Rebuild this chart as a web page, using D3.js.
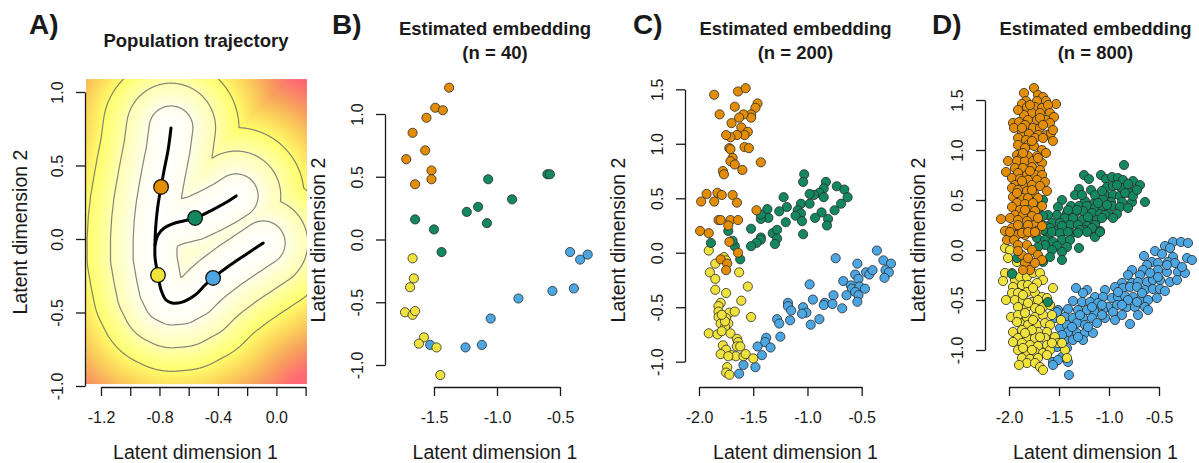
<!DOCTYPE html>
<html>
<head>
<meta charset="utf-8">
<script src="https://cdn.jsdelivr.net/npm/d3@7"></script>
<style>
  body { margin: 0; background: #fff; }
  svg { display: block; }
</style>
</head>
<body>
<svg id="fig" width="1199" height="463"></svg>
<script>
// ---- data -------------------------------------------------------------
// panel A: population trajectory (latent coords)
var trunkPath = [[-0.721,0.755],[-0.741,0.605],[-0.768,0.469],[-0.789,0.354],[-0.810,0.231],[-0.823,0.116],[-0.830,-0.007],[-0.830,-0.129],[-0.810,-0.245],[-0.789,-0.347],[-0.755,-0.415],[-0.714,-0.435],[-0.645,-0.429],[-0.556,-0.381],[-0.488,-0.313],[-0.433,-0.265],[-0.316,-0.177],[-0.193,-0.095],[-0.090,-0.027]];
var branchPath = [[-0.830,-0.041],[-0.810,0.027],[-0.768,0.075],[-0.693,0.109],[-0.556,0.143],[-0.440,0.197],[-0.351,0.245],[-0.275,0.293]];
var trajDots = [[-0.789,0.354],[-0.556,0.143],[-0.810,-0.245],[-0.433,-0.265]];
var contourLevels = [0.15, 0.305, 0.465];
var heatX = [-1.303, 0.211];
var heatY = [-0.986, 1.088];

var groups = ["orange", "green", "yellow", "blue"];

// panel B: n = 40
var n40Orange = [[-1.38,1.21],[-1.49,1.05],[-1.43,1.03],[-1.56,0.97],[-1.67,0.85],[-1.57,0.71],[-1.72,0.64],[-1.52,0.55],[-1.52,0.48],[-1.65,0.44]];
var n40Green = [[-1.07,0.48],[-0.60,0.52],[-0.58,0.52],[-0.88,0.32],[-1.15,0.26],[-1.24,0.22],[-1.08,0.13],[-1.65,0.16],[-1.50,0.08],[-1.44,-0.10]];
var n40Yellow = [[-1.67,-0.15],[-1.66,-0.31],[-1.69,-0.38],[-1.73,-0.58],[-1.67,-0.60],[-1.65,-0.57],[-1.58,-0.78],[-1.62,-0.83],[-1.48,-0.86],[-1.45,-1.08]];
var n40Blue = [[-1.53,-0.84],[-1.25,-0.86],[-1.12,-0.84],[-1.05,-0.63],[-0.83,-0.47],[-0.56,-0.41],[-0.39,-0.39],[-0.42,-0.10],[-0.34,-0.16],[-0.28,-0.12]];

// panel C: n = 200
var n200Orange = [[-1.86,1.45],[-1.64,1.48],[-1.57,1.51],[-1.81,1.27],[-1.67,1.34],[-1.46,1.37],[-1.48,1.33],[-1.52,1.27],[-1.52,1.24],[-1.59,1.27],[-1.63,1.24],[-1.70,1.19],[-1.61,1.15],[-1.55,1.11],[-1.58,1.08],[-1.65,1.08],[-1.71,1.06],[-1.75,1.08],[-1.72,0.96],[-1.71,0.95],[-1.58,0.97],[-1.54,0.96],[-1.69,0.87],[-1.71,0.84],[-1.67,0.81],[-1.78,0.75],[-1.77,0.72],[-1.60,0.76],[-1.43,0.83],[-1.93,0.54],[-1.83,0.55],[-1.79,0.53],[-1.69,0.53],[-1.98,0.47],[-1.86,0.47],[-1.65,0.46],[-1.82,0.30],[-1.80,0.30],[-1.71,0.30],[-1.64,0.30],[-1.73,0.25],[-1.47,0.39],[-1.99,0.20],[-1.91,0.18],[-1.72,0.10],[-1.64,0.00],[-1.80,-0.06],[-1.74,-0.10],[-1.75,-0.16]];
var n200Green = [[-1.03,0.72],[-1.04,0.65],[-0.83,0.65],[-0.73,0.61],[-0.66,0.58],[-0.63,0.51],[-0.69,0.45],[-0.75,0.39],[-0.85,0.59],[-0.89,0.55],[-0.94,0.53],[-0.98,0.54],[-0.85,0.51],[-1.22,0.51],[-1.06,0.45],[-0.98,0.45],[-1.19,0.42],[-1.26,0.38],[-1.37,0.40],[-1.09,0.39],[-1.06,0.36],[-1.11,0.34],[-0.87,0.37],[-0.93,0.32],[-0.81,0.31],[-0.82,0.25],[-1.05,0.29],[-1.20,0.28],[-1.36,0.32],[-1.43,0.31],[-1.43,0.35],[-1.52,0.22],[-1.73,0.20],[-1.32,0.18],[-1.28,0.21],[-1.04,0.17],[-1.43,0.14],[-1.28,0.13],[-1.30,0.08],[-1.43,0.12],[-1.47,0.09],[-1.52,0.06],[-1.89,0.09],[-1.67,0.06],[-1.62,-0.06],[-1.69,0.11]];
var n200Yellow = [[-1.91,0.02],[-1.85,-0.10],[-1.77,-0.04],[-1.75,-0.07],[-1.90,-0.18],[-1.85,-0.24],[-1.63,-0.18],[-1.85,-0.34],[-1.75,-0.37],[-1.55,-0.31],[-1.61,-0.44],[-1.80,-0.46],[-1.82,-0.49],[-1.82,-0.54],[-1.72,-0.55],[-1.67,-0.54],[-1.82,-0.59],[-1.75,-0.60],[-1.73,-0.65],[-1.80,-0.65],[-1.76,-0.68],[-1.52,-0.59],[-1.91,-0.74],[-1.83,-0.75],[-1.79,-0.72],[-1.71,-0.74],[-1.65,-0.79],[-1.64,-0.82],[-1.78,-0.85],[-1.65,-0.86],[-1.62,-0.86],[-1.75,-0.89],[-1.80,-0.93],[-1.70,-0.94],[-1.66,-0.95],[-1.59,-0.95],[-1.57,-0.93],[-1.50,-0.97],[-1.73,-0.95],[-1.74,-1.05],[-1.75,-1.10],[-1.72,-1.12],[-1.76,-0.63],[-1.79,-0.57]];
var n200Blue = [[-0.74,-0.05],[-0.36,0.02],[-0.30,-0.07],[-0.23,-0.10],[-0.54,-0.10],[-0.98,-0.29],[-0.67,-0.26],[-0.56,-0.20],[-0.53,-0.24],[-0.46,-0.18],[-0.43,-0.20],[-0.40,-0.16],[-0.28,-0.16],[-0.25,-0.18],[-0.29,-0.23],[-0.60,-0.30],[-0.59,-0.33],[-0.52,-0.31],[-0.47,-0.33],[-0.64,-0.39],[-0.76,-0.39],[-0.56,-0.36],[-0.53,-0.39],[-0.54,-0.45],[-0.95,-0.43],[-0.84,-0.46],[-0.85,-0.48],[-0.77,-0.47],[-0.68,-0.51],[-1.18,-0.46],[-1.18,-0.49],[-1.15,-0.53],[-1.04,-0.50],[-1.01,-0.55],[-1.05,-0.56],[-0.89,-0.61],[-1.16,-0.62],[-0.97,-0.66],[-1.28,-0.61],[-1.26,-0.65],[-1.25,-0.77],[-1.38,-0.78],[-1.39,-0.82],[-1.34,-0.87],[-1.46,-0.86],[-1.42,-0.94],[-1.59,-1.03],[-1.48,-1.05],[-1.63,-1.11]];

// panel D: n = 800 (read where visible; hidden overlaps not recoverable)
var n800Orange = [[-1.75,1.62],[-1.85,1.57],[-1.71,1.55],[-1.66,1.53],[-1.83,1.49],[-1.72,1.49],[-1.63,1.49],[-1.53,1.46],[-1.87,1.46],[-1.82,1.43],[-1.74,1.43],[-1.67,1.42],[-1.61,1.45],[-1.77,1.37],[-1.69,1.37],[-1.59,1.37],[-1.55,1.33],[-1.85,1.35],[-1.81,1.30],[-1.72,1.30],[-1.63,1.30],[-1.96,1.27],[-1.90,1.28],[-1.84,1.25],[-1.76,1.22],[-1.69,1.22],[-1.59,1.27],[-1.95,1.22],[-1.87,1.17],[-1.80,1.16],[-1.71,1.15],[-1.62,1.15],[-1.58,1.17],[-1.91,1.12],[-1.83,1.10],[-1.74,1.12],[-1.66,1.12],[-1.56,1.09],[-1.91,1.05],[-1.81,1.05],[-1.75,1.04],[-1.67,1.00],[-1.84,1.02],[-1.92,0.95],[-1.87,0.94],[-1.81,0.94],[-1.72,0.94],[-1.63,0.97],[-2.01,0.89],[-1.92,0.89],[-1.84,0.89],[-1.76,0.89],[-1.67,0.87],[-1.94,0.82],[-1.86,0.82],[-1.77,0.83],[-1.69,0.80],[-2.03,0.78],[-1.91,0.77],[-1.82,0.75],[-1.74,0.75],[-1.67,0.75],[-1.97,0.72],[-1.89,0.71],[-1.81,0.70],[-1.72,0.70],[-1.64,0.68],[-1.94,0.65],[-1.86,0.65],[-1.77,0.65],[-1.69,0.64],[-1.62,0.59],[-1.97,0.62],[-1.91,0.60],[-1.82,0.59],[-1.75,0.57],[-1.96,0.53],[-1.87,0.52],[-1.81,0.52],[-1.71,0.52],[-1.92,0.47],[-1.84,0.46],[-1.76,0.47],[-1.67,0.44],[-1.97,0.43],[-1.89,0.40],[-1.81,0.40],[-1.74,0.39],[-1.94,0.35],[-1.86,0.35],[-1.77,0.34],[-2.08,0.31],[-1.99,0.32],[-1.91,0.30],[-1.82,0.29],[-1.74,0.25],[-1.97,0.22],[-1.89,0.20],[-1.81,0.19],[-1.72,0.19],[-1.99,0.17],[-1.92,0.15],[-1.84,0.15],[-1.76,0.17],[-1.91,1.40],[-1.79,1.45],[-1.69,1.32],[-1.87,1.22],[-1.66,1.25],[-1.77,1.09],[-1.86,0.97],[-1.71,0.92],[-1.79,0.79],[-1.87,0.69],[-1.92,0.57],[-1.77,0.60],[-1.84,0.40],[-1.71,0.32],[-1.91,0.25],[-1.81,0.25],[-2.04,0.19],[-1.67,0.24],[-1.56,1.20],[-2.02,0.10],[-1.95,0.10],[-1.87,0.17],[-1.81,0.18],[-1.74,0.18],[-1.99,0.18],[-1.91,0.05],[-1.82,0.05],[-1.77,0.00],[-1.71,-0.05],[-1.87,-0.05],[-1.91,-0.01],[-1.84,-0.13],[-1.79,-0.20],[-1.86,-0.20],[-1.67,-0.10],[-1.74,-0.13],[-1.81,-0.08]];
var n800Green = [[-0.85,0.85],[-1.25,0.75],[-1.20,0.71],[-1.08,0.75],[-1.03,0.71],[-0.97,0.73],[-0.91,0.72],[-0.86,0.70],[-0.76,0.69],[-0.69,0.65],[-1.30,0.61],[-1.18,0.60],[-1.02,0.63],[-0.96,0.64],[-0.88,0.62],[-0.81,0.66],[-0.75,0.59],[-0.80,0.57],[-1.04,0.55],[-0.96,0.55],[-0.89,0.54],[-1.24,0.49],[-1.14,0.48],[-1.06,0.51],[-0.98,0.48],[-0.87,0.48],[-0.77,0.48],[-0.64,0.48],[-1.47,0.50],[-1.38,0.44],[-1.30,0.44],[-1.22,0.44],[-1.14,0.42],[-1.06,0.42],[-0.97,0.44],[-0.89,0.43],[-0.81,0.42],[-1.51,0.43],[-1.42,0.37],[-1.34,0.37],[-1.26,0.39],[-1.17,0.37],[-1.09,0.36],[-1.01,0.37],[-0.92,0.36],[-1.61,0.35],[-1.52,0.35],[-1.44,0.32],[-1.36,0.32],[-1.27,0.30],[-1.19,0.29],[-1.12,0.30],[-1.04,0.35],[-1.66,0.34],[-1.57,0.27],[-1.49,0.27],[-1.39,0.25],[-1.31,0.25],[-1.22,0.24],[-1.14,0.25],[-1.64,0.24],[-1.54,0.19],[-1.44,0.19],[-1.37,0.17],[-1.24,0.20],[-1.16,0.17],[-1.09,0.19],[-1.34,0.55],[-1.14,0.55],[-0.92,0.65],[-0.84,0.57],[-1.07,0.59],[-1.27,0.55],[-1.21,0.33],[-1.32,0.40],[-1.07,0.32],[-0.96,0.32],[-1.41,0.40],[-1.47,0.24],[-1.29,0.20],[-1.17,0.22],[-1.59,0.22],[-1.61,0.15],[-1.02,0.45],[-1.11,0.47],[-0.76,0.54],[-0.72,0.60],[-1.66,0.50],[-1.70,0.42],[-1.66,0.20],[-1.57,0.18],[-1.49,0.17],[-1.41,0.18],[-1.31,0.17],[-1.22,0.18],[-1.14,0.13],[-1.09,0.18],[-1.72,0.12],[-1.64,0.10],[-1.56,0.08],[-1.47,0.10],[-1.39,0.10],[-1.64,0.05],[-1.52,0.04],[-1.42,0.03],[-1.57,0.00],[-1.47,-0.02],[-1.71,0.03],[-1.30,0.02],[-1.59,-0.07],[-1.47,-0.10],[-1.66,-0.12],[-1.92,-0.08],[-1.97,-0.24],[-1.61,-0.52]];
var n800Yellow = [[-2.04,0.02],[-1.99,0.00],[-2.01,-0.08],[-1.92,-0.12],[-2.04,-0.23],[-1.97,-0.23],[-2.06,-0.31],[-1.94,-0.30],[-1.89,-0.27],[-1.82,-0.27],[-1.76,-0.23],[-1.69,-0.23],[-1.66,-0.30],[-1.96,-0.37],[-1.87,-0.35],[-1.81,-0.35],[-1.72,-0.33],[-1.56,-0.38],[-1.97,-0.43],[-1.91,-0.43],[-1.82,-0.42],[-1.74,-0.43],[-1.67,-0.47],[-2.03,-0.50],[-1.94,-0.50],[-1.86,-0.50],[-1.77,-0.52],[-1.71,-0.50],[-1.62,-0.48],[-1.91,-0.57],[-1.82,-0.57],[-1.74,-0.58],[-1.66,-0.57],[-1.59,-0.55],[-1.98,-0.67],[-1.91,-0.65],[-1.82,-0.68],[-1.74,-0.67],[-1.66,-0.65],[-1.57,-0.65],[-1.89,-0.73],[-1.81,-0.75],[-1.72,-0.75],[-1.64,-0.73],[-1.59,-0.75],[-1.48,-0.70],[-1.96,-0.82],[-1.87,-0.80],[-1.79,-0.82],[-1.71,-0.82],[-1.62,-0.82],[-1.91,-0.88],[-1.82,-0.88],[-1.74,-0.88],[-1.64,-0.88],[-1.54,-0.87],[-1.96,-0.92],[-1.87,-0.93],[-1.79,-0.95],[-1.71,-0.96],[-1.62,-0.95],[-1.51,-0.93],[-1.91,-1.00],[-1.82,-1.02],[-1.74,-1.02],[-1.66,-1.03],[-1.59,-1.00],[-1.44,-1.00],[-1.87,-1.08],[-1.79,-1.09],[-1.71,-1.08],[-1.62,-1.05],[-1.82,-1.13],[-1.74,-1.13],[-1.90,-1.15],[-1.69,-1.17],[-1.66,-1.20],[-1.42,-1.08],[-1.47,-0.93],[-1.84,-0.63],[-1.76,-0.70],[-1.69,-0.60],[-1.92,-0.72],[-1.77,-0.80],[-1.84,-0.83],[-1.69,-0.87],[-1.77,-1.00],[-1.86,-0.98],[-1.57,-0.93],[-1.76,-0.38],[-1.86,-0.45],[-1.81,-0.53]];
var n800Blue = [[-0.36,0.08],[-0.28,0.08],[-0.21,0.07],[-0.44,0.04],[-0.39,0.02],[-0.54,-0.01],[-0.65,-0.06],[-0.47,-0.04],[-0.36,-0.07],[-0.22,-0.08],[-0.17,-0.10],[-0.57,-0.12],[-0.51,-0.13],[-0.41,-0.12],[-0.34,-0.13],[-0.62,-0.15],[-0.66,-0.20],[-0.77,-0.20],[-0.51,-0.20],[-0.42,-0.22],[-0.31,-0.22],[-0.24,-0.23],[-0.69,-0.25],[-0.81,-0.25],[-0.87,-0.33],[-0.77,-0.33],[-0.71,-0.32],[-0.62,-0.32],[-0.56,-0.30],[-0.49,-0.30],[-0.39,-0.32],[-0.94,-0.37],[-0.86,-0.38],[-0.79,-0.37],[-0.72,-0.37],[-0.64,-0.40],[-0.56,-0.39],[-0.49,-0.39],[-0.44,-0.41],[-1.04,-0.40],[-1.22,-0.40],[-1.33,-0.38],[-1.26,-0.43],[-1.14,-0.47],[-1.06,-0.47],[-0.97,-0.48],[-0.91,-0.47],[-0.84,-0.46],[-0.76,-0.47],[-0.67,-0.50],[-0.61,-0.50],[-0.52,-0.48],[-1.36,-0.51],[-1.27,-0.52],[-1.19,-0.52],[-1.11,-0.53],[-1.01,-0.57],[-0.92,-0.55],[-0.82,-0.57],[-0.74,-0.57],[-0.64,-0.57],[-1.41,-0.59],[-1.31,-0.60],[-1.22,-0.60],[-1.14,-0.62],[-1.06,-0.60],[-0.96,-0.62],[-0.87,-0.65],[-0.71,-0.65],[-0.61,-0.60],[-1.51,-0.60],[-1.44,-0.67],[-1.36,-0.68],[-1.26,-0.68],[-1.17,-0.68],[-1.04,-0.68],[-0.94,-0.70],[-0.79,-0.74],[-1.49,-0.78],[-1.42,-0.75],[-1.32,-0.73],[-1.24,-0.75],[-1.12,-0.73],[-1.41,-0.82],[-1.32,-0.83],[-1.24,-0.83],[-1.16,-0.83],[-1.52,-0.90],[-1.44,-0.90],[-1.36,-0.90],[-1.26,-0.90],[-1.52,-0.97],[-1.42,-0.98],[-1.47,-1.07],[-1.56,-1.12],[-1.51,-1.10],[-1.41,-1.12],[-1.56,-1.15],[-1.40,-1.25],[-1.54,-0.68],[-1.52,-0.62],[-0.51,-0.27],[-0.59,-0.23],[-0.67,-0.43],[-0.81,-0.50],[-0.87,-0.55],[-1.07,-0.55],[-1.17,-0.57],[-1.29,-0.65],[-1.21,-0.77],[-1.07,-0.65],[-0.32,-0.30],[-0.27,-0.17],[-0.72,-0.52],[-0.91,-0.42],[-1.37,-0.77],[-1.31,-0.87],[-1.47,-0.85],[-0.42,-0.15]];

// axis ticks
var xTicksA = [-1.2,-1.0,-0.8,-0.6,-0.4,-0.2,0.0,0.2];
var xLabelsA = [-1.2,-0.8,-0.4,0.0];
var yTicksAB = [-1.0,-0.5,0.0,0.5,1.0];
var xTicksB = [-1.5,-1.0,-0.5];
var xTicksCD = [-2.0,-1.5,-1.0,-0.5];
var yTicksCD = [-1.0,-0.5,0.0,0.5,1.0,1.5];

// ---- style ------------------------------------------------------------
var FONT = '"Liberation Sans", Arial, Helvetica, sans-serif';
var groupColor = { orange: "#E38D04", green: "#138860", yellow: "#F0E23C", blue: "#4CA6E1" };
var INK = "#1a1a1a";

var svg = d3.select("#fig").style("font-family", FONT);

function fmt1(d) { return d.toFixed(1); }
function hasVal(arr, v) { return arr.some(function(a) { return Math.abs(a - v) < 1e-9; }); }

function drawAxes(g, x, y, axisX, axisY, xTicks, xLabels, yTicks) {
    var ax = g.append("g")
        .attr("transform", "translate(0," + axisY + ")")
        .call(d3.axisBottom(x).tickValues(xTicks).tickSize(9).tickSizeOuter(0)
            .tickFormat(function(d) { return hasVal(xLabels, d) ? fmt1(d) : ""; }));
    var ay = g.append("g")
        .attr("transform", "translate(" + axisX + ",0)")
        .call(d3.axisLeft(y).tickValues(yTicks).tickSize(9).tickSizeOuter(0).tickFormat(fmt1));
    [ax, ay].forEach(function(a) {
        a.attr("font-family", FONT).attr("font-size", 16);
        a.select(".domain").attr("stroke", INK).attr("stroke-width", 1.3);
        a.selectAll(".tick line").attr("stroke", INK).attr("stroke-width", 1.3);
        a.selectAll(".tick text").attr("fill", INK);
    });
    ax.selectAll(".tick text").attr("y", 36).attr("dy", 0);
    ay.selectAll(".tick text")
        .attr("transform", "rotate(-90)")
        .attr("x", 0).attr("y", -22.5).attr("dy", 0)
        .attr("text-anchor", "middle");
}

function drawLabels(letterX, titleLines, titleCx, xTitleCx, yTitleX, yTitleCy) {
    svg.append("text").attr("x", letterX).attr("y", 34)
        .attr("font-size", 28).attr("font-weight", "bold").attr("fill", INK)
        .text(titleLines.letter);
    var t = svg.append("text").attr("text-anchor", "middle")
        .attr("font-size", 18.5).attr("font-weight", "bold").attr("fill", INK);
    if (titleLines.lines.length === 1) {
        t.append("tspan").attr("x", titleCx).attr("y", 46.5).text(titleLines.lines[0]);
    } else {
        t.append("tspan").attr("x", titleCx).attr("y", 34.5).text(titleLines.lines[0]);
        t.append("tspan").attr("x", titleCx).attr("y", 59).text(titleLines.lines[1]);
    }
    svg.append("text").attr("x", xTitleCx).attr("y", 459)
        .attr("text-anchor", "middle").attr("font-size", 19.5).attr("fill", INK)
        .text("Latent dimension 1");
    svg.append("text")
        .attr("transform", "translate(" + yTitleX + "," + yTitleCy + ") rotate(-90)")
        .attr("text-anchor", "middle").attr("font-size", 19.5).attr("fill", INK)
        .text("Latent dimension 2");
}

// ---- panel A ----------------------------------------------------------
var xA = d3.scaleLinear().domain([-1.2, 0.2]).range([101, 305.6]);
var yA = d3.scaleLinear().domain([-1, 1]).range([386, 92]);

var segments = [];
[trunkPath, branchPath].forEach(function(p) {
    for (var i = 0; i < p.length - 1; i++) segments.push([p[i], p[i + 1]]);
});
function distToTraj(x, y) {
    var best = Infinity;
    segments.forEach(function(s) {
        var ax = s[0][0], ay = s[0][1], bx = s[1][0], by = s[1][1];
        var dx = bx - ax, dy = by - ay;
        var t = ((x - ax) * dx + (y - ay) * dy) / (dx * dx + dy * dy);
        t = Math.max(0, Math.min(1, t));
        var ex = ax + t * dx - x, ey = ay + t * dy - y;
        var d = ex * ex + ey * ey;
        if (d < best) best = d;
    });
    return Math.sqrt(best);
}

var heatColor = d3.scaleLinear()
    .domain([0, 0.12, 0.3, 0.46, 0.6, 0.74, 0.9])
    .range(["#ffffff", "#fffff2", "#ffffb4", "#ffff6c", "#fbd25a", "#f89e5e", "#ff6676"])
    .interpolate(d3.interpolateRgb)
    .clamp(true);

var hx0 = xA(heatX[0]), hx1 = xA(heatX[1]), hy0 = yA(heatY[1]), hy1 = yA(heatY[0]);
var cw = Math.round(hx1 - hx0), ch = Math.round(hy1 - hy0);
var canvas = document.createElement("canvas");
canvas.width = cw; canvas.height = ch;
var ctx = canvas.getContext("2d");
var img = ctx.createImageData(cw, ch);
for (var j = 0; j < ch; j++) {
    for (var i = 0; i < cw; i++) {
        var c = d3.rgb(heatColor(distToTraj(xA.invert(hx0 + i + 0.5), yA.invert(hy0 + j + 0.5))));
        var k = (j * cw + i) * 4;
        img.data[k] = c.r; img.data[k + 1] = c.g; img.data[k + 2] = c.b; img.data[k + 3] = 255;
    }
}
ctx.putImageData(img, 0, 0);

var gA = svg.append("g");
gA.append("image")
    .attr("x", hx0).attr("y", hy0).attr("width", cw).attr("height", ch)
    .attr("preserveAspectRatio", "none")
    .attr("href", canvas.toDataURL());

svg.append("clipPath").attr("id", "clipA").append("rect")
    .attr("x", hx0).attr("y", hy0).attr("width", cw).attr("height", ch);

// contour lines of the same distance field on a padded grid
var step = 0.005, pad = 0.1;
var gx0 = heatX[0] - pad, gy1 = heatY[1] + pad;
var nx = Math.ceil((heatX[1] - heatX[0] + 2 * pad) / step) + 1;
var ny = Math.ceil((heatY[1] - heatY[0] + 2 * pad) / step) + 1;
var grid = new Array(nx * ny);
for (var r = 0; r < ny; r++) {
    for (var q = 0; q < nx; q++) grid[r * nx + q] = distToTraj(gx0 + q * step, gy1 - r * step);
}
var contourProj = d3.geoTransform({
    point: function(px, py) {
        this.stream.point(xA(gx0 + (px - 0.5) * step), yA(gy1 - (py - 0.5) * step));
    }
});
gA.append("g").attr("clip-path", "url(#clipA)")
    .selectAll("path")
    .data(d3.contours().size([nx, ny]).thresholds(contourLevels)(grid))
    .join("path")
    .attr("d", d3.geoPath(contourProj))
    .attr("fill", "none")
    .attr("stroke", "#6f6f6f")
    .attr("stroke-opacity", 0.85)
    .attr("stroke-width", 1.2);

var trajLine = d3.line().x(function(d) { return xA(d[0]); }).y(function(d) { return yA(d[1]); })
    .curve(d3.curveCatmullRom);
gA.selectAll("path.traj")
    .data([trunkPath, branchPath])
    .join("path")
    .attr("class", "traj")
    .attr("d", trajLine)
    .attr("fill", "none")
    .attr("stroke", "#000")
    .attr("stroke-width", 3)
    .attr("stroke-linecap", "round");

gA.selectAll("circle")
    .data(trajDots)
    .join("circle")
    .attr("cx", function(d) { return xA(d[0]); })
    .attr("cy", function(d) { return yA(d[1]); })
    .attr("r", 7.3)
    .attr("fill", function(d, i) { return groupColor[groups[i]]; })
    .attr("stroke", "#111")
    .attr("stroke-width", 1.3);

drawAxes(gA, xA, yA, 85, 387, xTicksA, xLabelsA, yTicksAB);
drawLabels(29, { letter: "A)", lines: ["Population trajectory"] }, 196, 195.5, 27, 232);

// ---- panels B, C, D ---------------------------------------------------
var scatterPanels = [
    { letter: "B)", letterX: 332, n: 40, cx: 495,
      x: d3.scaleLinear().domain([-1.5, -0.5]).range([434, 560]),
      y: d3.scaleLinear().domain([-1, 1]).range([365, 114]),
      axisX: 385, xTicks: xTicksB, yTicks: yTicksAB,
      pts: { orange: n40Orange, green: n40Green, yellow: n40Yellow, blue: n40Blue } },
    { letter: "C)", letterX: 633, n: 200, cx: 795.5,
      x: d3.scaleLinear().domain([-2, -0.5]).range([699, 861.7]),
      y: d3.scaleLinear().domain([-1, 1.5]).range([361.7, 89.3]),
      axisX: 685, xTicks: xTicksCD, yTicks: yTicksCD,
      pts: { orange: n200Orange, green: n200Green, yellow: n200Yellow, blue: n200Blue } },
    { letter: "D)", letterX: 932, n: 800, cx: 1095.5,
      x: d3.scaleLinear().domain([-2, -0.5]).range([1009, 1159]),
      y: d3.scaleLinear().domain([-1, 1.5]).range([350, 100]),
      axisX: 985, xTicks: xTicksCD, yTicks: yTicksCD,
      pts: { orange: n800Orange, green: n800Green, yellow: n800Yellow, blue: n800Blue } }
];

var drawOrder = ["blue", "yellow", "green", "orange"];

scatterPanels.forEach(function(p) {
    var g = svg.append("g");
    drawOrder.forEach(function(key) {
        g.append("g").selectAll("circle")
            .data(p.pts[key])
            .join("circle")
            .attr("cx", function(d) { return p.x(d[0]); })
            .attr("cy", function(d) { return p.y(d[1]); })
            .attr("r", 4.6)
            .attr("fill", groupColor[key])
            .attr("stroke", "#2a2a2a")
            .attr("stroke-width", 0.8);
    });
    drawAxes(g, p.x, p.y, p.axisX, 387, p.xTicks, p.xTicks, p.yTicks);
    drawLabels(p.letterX, { letter: p.letter, lines: ["Estimated embedding", "(n = " + p.n + ")"] },
        p.cx, p.cx, p.axisX - 60, 240);
});
</script>
</body>
</html>
